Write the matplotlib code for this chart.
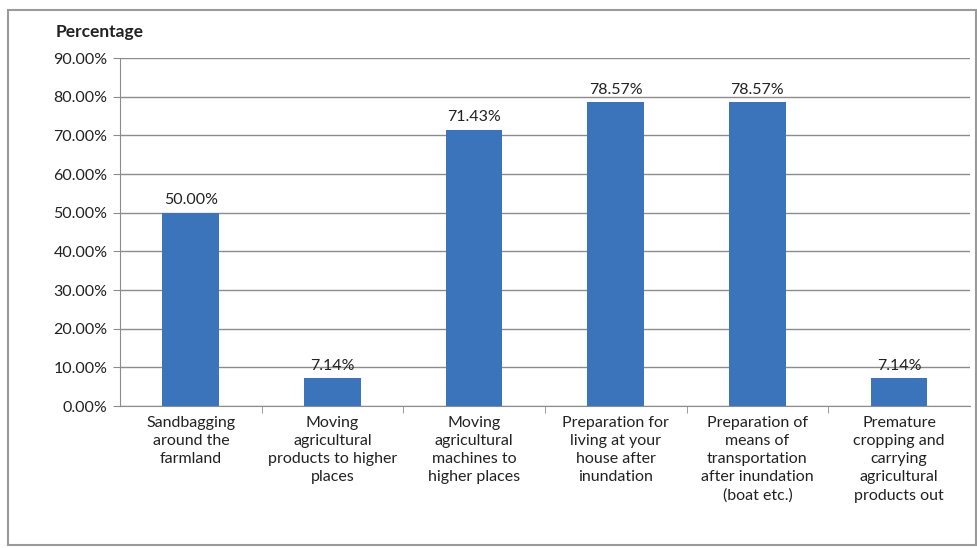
import matplotlib
matplotlib.use("Agg")
import matplotlib.pyplot as plt
from matplotlib.patches import Rectangle
from matplotlib.ticker import FuncFormatter, MultipleLocator

categories = [
    "Sandbagging\naround the\nfarmland",
    "Moving\nagricultural\nproducts to higher\nplaces",
    "Moving\nagricultural\nmachines to\nhigher places",
    "Preparation for\nliving at your\nhouse after\ninundation",
    "Preparation of\nmeans of\ntransportation\nafter inundation\n(boat etc.)",
    "Premature\ncropping and\ncarrying\nagricultural\nproducts out",
]
values = [50.00, 7.14, 71.43, 78.57, 78.57, 7.14]

plt.rcParams["font.family"] = ["Lato", "DejaVu Sans"]

fig = plt.figure(figsize=(9.78, 5.48), dpi=100)
fig.patch.set_facecolor("white")
# chart frame
fig.patches.append(Rectangle((0.008, 0.006), 0.99, 0.976, transform=fig.transFigure,
                             fill=False, edgecolor="#9a9a9a", linewidth=1.5))

ax = fig.add_axes([0.1227, 0.259, 0.869, 0.635])
x = range(len(values))
ax.bar(x, values, width=0.4, color="#3b74bb", zorder=3)
for xi, v in zip(x, values):
    ax.text(xi, v + 1.4, f"{v:.2f}%", ha="center", va="bottom", fontsize=11.5, color="#222222")

ax.set_xlim(-0.5, len(values) - 0.5)
ax.set_ylim(0, 90)
ax.yaxis.set_major_locator(MultipleLocator(10))
ax.yaxis.set_major_formatter(FuncFormatter(lambda v, p: f"{v:.2f}%"))
ax.grid(axis="y", color="#8c8c8c", linewidth=1, zorder=0)

ax.set_xticks([i + 0.5 for i in range(len(values) - 1)], minor=True)
ax.set_xticks(list(x))
ax.set_xticklabels(categories, fontsize=11.5, color="#222222", linespacing=1.38)
ax.tick_params(axis="x", which="major", length=0, pad=7)
ax.tick_params(axis="x", which="minor", length=5, color="#8c8c8c")
ax.tick_params(axis="y", length=5, color="#8c8c8c", labelsize=11.5, labelcolor="#222222", pad=4)

for s in ["top", "right"]:
    ax.spines[s].set_visible(False)
ax.spines["left"].set_color("#8c8c8c")
ax.spines["bottom"].set_color("#8c8c8c")

fig.text(0.057, 0.942, "Percentage", fontsize=12.5, fontweight="bold", color="#222222",
         ha="left", va="center")

fig.savefig("out.png", dpi=100)
